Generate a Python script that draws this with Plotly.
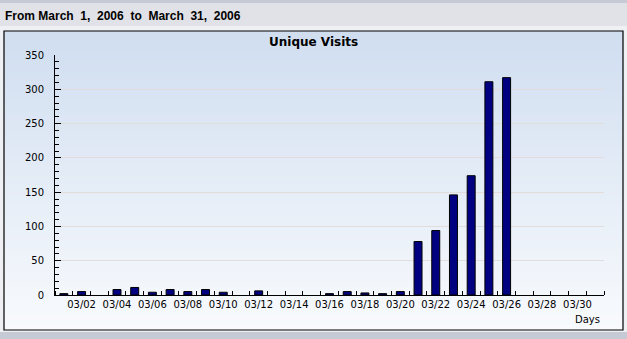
import plotly.graph_objects as go

days = list(range(1, 32))
visits = [2, 5, 0, 8, 11, 4, 8, 5, 8, 4, 0, 6, 0, 0, 0, 2, 5, 3, 2, 5,
          78, 94, 146, 174, 311, 317, 0, 0, 0, 0, 0]
label_days = list(range(2, 31, 2))
label_text = ["03/%02d" % d for d in label_days]
y_ticks = [0, 50, 100, 150, 200, 250, 300, 350]

W, H = 627, 339
L, R, T, B = 55, 604, 55, 295


def px(x):
    return (x - L) / (R - L)


def py(y):
    return (B - y) / (B - T)


shapes = []
# top gray band
shapes.append(dict(type="rect", xref="paper", yref="paper", x0=px(0), x1=px(W), y0=py(0), y1=py(3),
                   fillcolor="#c6cad4", line_width=0, layer="below"))
# header band
shapes.append(dict(type="rect", xref="paper", yref="paper", x0=px(0), x1=px(W), y0=py(3), y1=py(26),
                   fillcolor="#e1e2e7", line_width=0, layer="below"))
# bottom gray band
shapes.append(dict(type="rect", xref="paper", yref="paper", x0=px(0), x1=px(W), y0=py(332), y1=py(H),
                   fillcolor="#c6cad4", line_width=0, layer="below"))
# gradient in frame
fx0, fx1, fy0, fy1 = 4, 623, 31, 330
n = 60
top_c = (0xD0, 0xDE, 0xF0)
bot_c = (0xF8, 0xFA, 0xFD)
for i in range(n):
    t = i / (n - 1)
    c = tuple(round(top_c[k] + (bot_c[k] - top_c[k]) * t) for k in range(3))
    ya = fy0 + (fy1 - fy0) * i / n
    yb = fy0 + (fy1 - fy0) * (i + 1) / n + 0.6
    shapes.append(dict(type="rect", xref="paper", yref="paper", x0=px(fx0), x1=px(fx1),
                       y0=py(ya), y1=py(min(yb, fy1)), fillcolor="rgb(%d,%d,%d)" % c,
                       line_width=0, layer="below"))
# frame border
shapes.append(dict(type="rect", xref="paper", yref="paper", x0=px(fx0), x1=px(fx1), y0=py(fy0), y1=py(fy1),
                   line=dict(color="black", width=1.2), fillcolor="rgba(0,0,0,0)", layer="above"))

line_widths = [1 if v > 0 else 0 for v in visits]

fig = go.Figure(go.Bar(
    x=days, y=visits, width=0.45,
    marker=dict(color="#000080", line=dict(color="black", width=line_widths)),
))

font = "DejaVu Sans"
fig.update_layout(
    width=W, height=H,
    margin=dict(l=L, r=W - R, t=T, b=H - B, pad=0),
    paper_bgcolor="#eef0f4",
    plot_bgcolor="rgba(0,0,0,0)",
    showlegend=False,
    shapes=shapes,
    font=dict(family=font, size=10, color="black"),
    annotations=[
        dict(text="<b>From March  1,  2006  to  March  31,  2006</b>", xref="paper", yref="paper",
             x=px(3), y=py(16), xanchor="left", yanchor="middle", showarrow=False,
             font=dict(family="Liberation Sans", size=12, color="black")),
        dict(text="<b>Unique Visits</b>", xref="paper", yref="paper",
             x=px(313.5), y=py(42), xanchor="center", yanchor="middle", showarrow=False,
             font=dict(family=font, size=12, color="black")),
        dict(text="Days", xref="paper", yref="paper",
             x=px(602), y=py(319), xanchor="right", yanchor="middle", showarrow=False,
             font=dict(family=font, size=10, color="black")),
    ],
)
fig.update_xaxes(
    range=[0.5, 31.5], tickmode="array", tickvals=label_days, ticktext=label_text,
    ticks="", showgrid=False, zeroline=False,
    showline=True, linecolor="black", linewidth=1,
    minor=dict(tick0=0.5, dtick=1, ticks="inside", ticklen=4, tickcolor="black", showgrid=False),
    tickfont=dict(family=font, size=10, color="black"),
)
fig.update_yaxes(
    range=[0, 350], tickmode="array", tickvals=y_ticks,
    ticks="inside", ticklen=6, tickcolor="black",
    showgrid=True, gridcolor="#e2dcdc", gridwidth=1, zeroline=False,
    showline=True, linecolor="black", linewidth=1,
    minor=dict(tick0=0, dtick=10, ticks="inside", ticklen=4, tickcolor="black", showgrid=False),
    ticklabelstandoff=8,
    tickfont=dict(family=font, size=10, color="black"),
)

fig.write_html("out.html")
